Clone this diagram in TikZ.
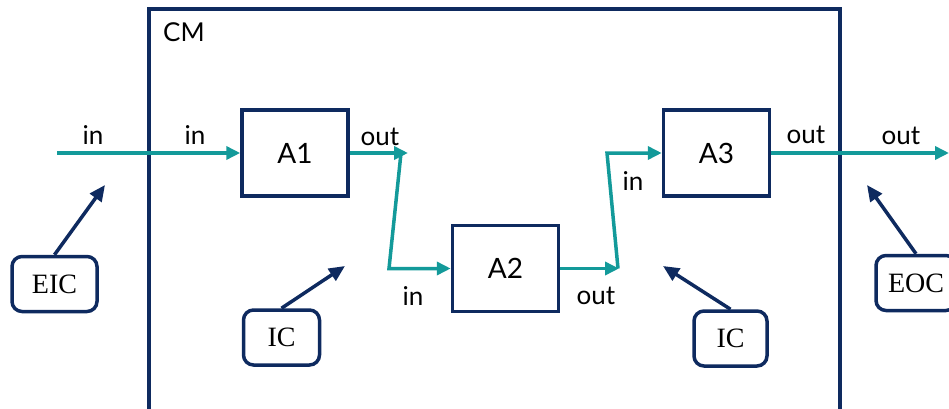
\documentclass[tikz,border=0pt]{standalone}
\usepackage{fontspec}
\newfontfamily\sansf{Lato}
\newfontfamily\serff{Liberation Serif}
\usetikzlibrary{arrows.meta,calc}
\definecolor{navy}{HTML}{0E2A5F}
\definecolor{teal}{HTML}{139A9A}
\tikzset{
  lbl/.style={font=\sansf\fontsize{26}{30}\selectfont, inner sep=0pt, text=black},
  abox/.style={draw=navy, line width=3.5pt, minimum width=106pt, minimum height=86pt, font=\sansf\fontsize{28}{32}\selectfont, inner sep=0pt},
  cbox/.style={draw=navy, line width=3.5pt, rounded corners=10pt, minimum height=55pt, font=\serff\fontsize{28}{32}\selectfont, inner sep=0pt},
  flow/.style={draw=teal, line width=3.5pt, -{Triangle[length=14pt,width=13pt]}},
  ptr/.style={draw=navy, line width=3.5pt, -{Triangle[length=16pt,width=14pt]}},
}
\begin{document}
\begin{tikzpicture}[x=1pt,y=-1pt]
\useasboundingbox (0,0) rectangle (949,409);
\clip (0,0) rectangle (949,409);
% CM box
\draw[navy, line width=3.5pt] (149,9) rectangle (840,440);
\node[lbl, anchor=base west] (CM) at (163,42) {CM};
% blocks
\node[abox] (A1) at (295,153) {A1};
\node[abox] (A2) at (505.5,268.5) {A2};
\node[abox] (A3) at (716.5,153) {A3};
% flows
\coordinate (inL) at (57,153);
\draw[flow] (inL) -- (A1.west);
\coordinate (o1) at (408,153);
\draw[flow] (A1.east) -- (o1);
\coordinate (b1) at (401,153);
\coordinate (c1) at (389,268.5);
\draw[flow, line join=miter] (b1) -- (c1) -- (A2.west);
\coordinate (o2) at (619,268.5);
\draw[flow] (A2.east) -- (o2);
\coordinate (b2) at (618,268.5);
\coordinate (c2) at (607,153);
\draw[flow, line join=miter] (b2) -- (c2) -- (A3.west);
\coordinate (outR) at (949,153);
\draw[flow] (A3.east) -- (outR);
% labels
\node[lbl] (l1) at (93,135) {in};
\node[lbl] (l2) at (195,135) {in};
\node[lbl] (l3) at (380,137) {out};
\node[lbl] (l4) at (413,296) {in};
\node[lbl] (l5) at (596,296) {out};
\node[lbl] (l6) at (633,181) {in};
\node[lbl] (l7) at (806,135) {out};
\node[lbl] (l8) at (901,136) {out};
% coupling boxes
\node[cbox, minimum width=85pt] (EIC) at (54.5,284) {EIC};
\node[cbox, minimum width=76pt] (IC1) at (281.5,337.5) {IC};
\node[cbox, minimum width=73pt] (IC2) at (730.5,338.5) {IC};
\node[cbox, minimum width=80pt] (EOC) at (916,283) {EOC};
\coordinate (tEIC) at (105,185);
\coordinate (tIC1) at (345,266);
\coordinate (tIC2) at (663,266);
\coordinate (tEOC) at (867,185);
\draw[ptr] (EIC.north) -- (tEIC);
\draw[ptr] (IC1.north) -- (tIC1);
\draw[ptr] (IC2.north) -- (tIC2);
\draw[ptr] (EOC.north) -- (tEOC);
\end{tikzpicture}
\end{document}
